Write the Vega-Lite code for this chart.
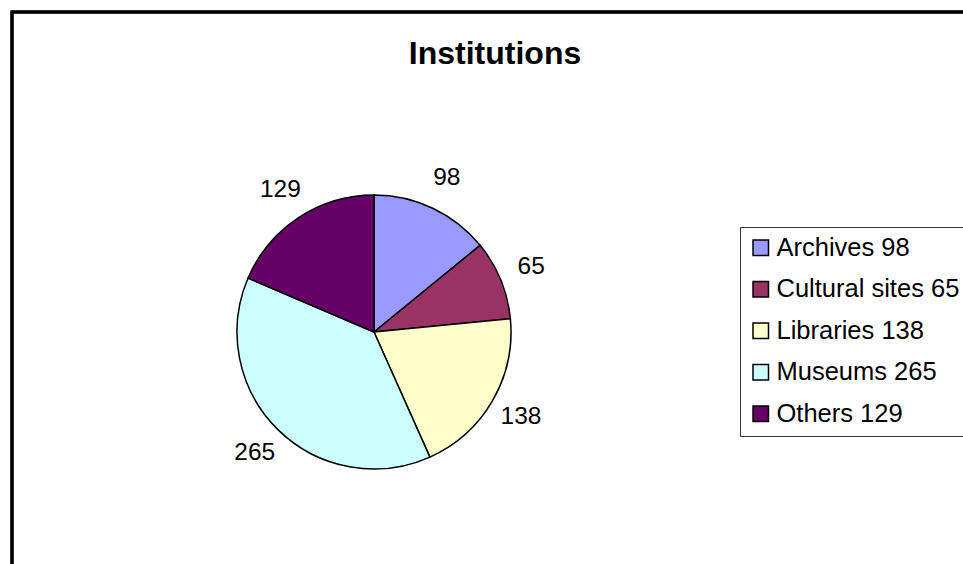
{
  "$schema": "https://vega.github.io/schema/vega-lite/v6.json",
  "width": 966,
  "height": 560,
  "autosize": {"type": "none"},
  "padding": {"left": 12, "top": 12, "right": 0, "bottom": 0},
  "background": "white",
  "view": {"stroke": "black", "strokeWidth": 2.5},
  "config": {
    "view": {"stroke": "black", "strokeWidth": 2.5},
    "font": "Liberation Sans"
  },
  "title": {
    "text": "Institutions",
    "anchor": "middle",
    "frame": "group",
    "fontSize": 32,
    "fontWeight": "bold",
    "font": "Liberation Sans",
    "color": "black",
    "baseline": "alphabetic",
    "offset": -85
  },
  "data": {
    "values": [
      {"category": "Archives", "value": 98, "label": "Archives 98"},
      {"category": "Cultural sites", "value": 65, "label": "Cultural sites 65"},
      {"category": "Libraries", "value": 138, "label": "Libraries 138"},
      {"category": "Museums", "value": 265, "label": "Museums 265"},
      {"category": "Others", "value": 129, "label": "Others 129"}
    ]
  },
  "encoding": {
    "theta": {"field": "value", "type": "quantitative", "stack": true},
    "order": {"field": "category", "type": "nominal"}
  },
  "layer": [
    {
      "mark": {"type": "rect", "fill": null, "stroke": "black", "strokeWidth": 2.5},
      "encoding": {}
    },
    {
      "mark": {"type": "arc", "x": 362, "y": 320, "outerRadius": 137, "stroke": "black", "strokeWidth": 1.5},
      "encoding": {
        "color": {
          "field": "label",
          "type": "nominal",
          "scale": {
            "domain": ["Archives 98", "Cultural sites 65", "Libraries 138", "Museums 265", "Others 129"],
            "range": ["#9999FF", "#993366", "#FFFFCC", "#CCFFFF", "#660066"]
          },
          "legend": {
            "title": null,
            "orient": "none",
            "legendX": 728,
            "legendY": 215,
            "symbolType": "square",
            "symbolSize": 240,
            "symbolStrokeColor": "black",
            "symbolStrokeWidth": 1.5,
            "labelFont": "Liberation Sans",
            "labelFontSize": 25.5,
            "labelColor": "black",
            "labelOffset": 3,
            "labelLimit": 400,
            "rowPadding": 14.5,
            "padding": 8,
            "strokeColor": "#333333",
            "fillColor": "white"
          }
        }
      }
    },
    {
      "mark": {"type": "text", "x": 362, "y": 320, "radius": 170, "fontSize": 24.5, "font": "Liberation Sans", "color": "black", "align": "center", "baseline": "middle"},
      "encoding": {
        "text": {"field": "value", "type": "quantitative"},
        "detail": {"field": "category", "type": "nominal"}
      }
    }
  ]
}
